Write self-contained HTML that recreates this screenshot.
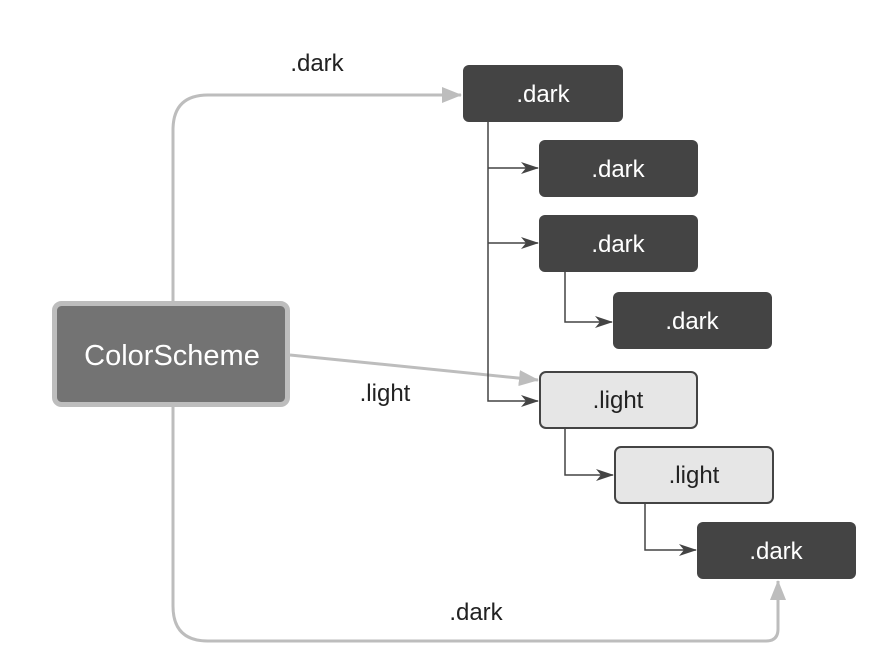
<!DOCTYPE html>
<html><head><meta charset="utf-8"><style>
body{margin:0;background:#fff;}
svg{display:block;font-family:"Liberation Sans",Helvetica,Arial,sans-serif;}
</style></head><body>
<svg width="891" height="655" viewBox="0 0 891 655" xmlns="http://www.w3.org/2000/svg">
<defs>
<marker id="ad" markerWidth="18" markerHeight="12" refX="17" refY="6" orient="auto" markerUnits="userSpaceOnUse">
<path d="M0,0 L18,6 L0,12 L5,6 Z" fill="#444"/>
</marker>
<marker id="agb" markerWidth="20" markerHeight="16" refX="19" refY="8" orient="auto" markerUnits="userSpaceOnUse">
<path d="M0,0 L20,8 L0,16 Z" fill="#bdbdbd"/>
</marker>
</defs>
<path d="M173,301 L173,130 Q173,95 208,95 L461,95" fill="none" stroke="#bdbdbd" stroke-width="3" marker-end="url(#agb)"/>
<path d="M290,355 L538,380" fill="none" stroke="#bdbdbd" stroke-width="3" marker-end="url(#agb)"/>
<path d="M173,407 L173,606 Q173,641 208,641 L766,641 Q778,641 778,629 L778,581" fill="none" stroke="#bdbdbd" stroke-width="3" marker-end="url(#agb)"/>
<path d="M488,122 L488,401 L538,401" fill="none" stroke="#444" stroke-width="1.5" marker-end="url(#ad)"/>
<path d="M488,168 L538,168" stroke="#444" stroke-width="1.5" marker-end="url(#ad)"/>
<path d="M488,243 L538,243" stroke="#444" stroke-width="1.5" marker-end="url(#ad)"/>
<path d="M565,272 L565,322 L612,322" fill="none" stroke="#444" stroke-width="1.5" marker-end="url(#ad)"/>
<path d="M565,428 L565,475 L613,475" fill="none" stroke="#444" stroke-width="1.5" marker-end="url(#ad)"/>
<path d="M645,503 L645,550 L696,550" fill="none" stroke="#444" stroke-width="1.5" marker-end="url(#ad)"/>
<rect x="54.5" y="303.5" width="233" height="101" rx="7" fill="#737373" stroke="#bdbdbd" stroke-width="5"/>
<text x="172" y="365" font-size="29" fill="#fff" text-anchor="middle">ColorScheme</text>
<g fill="#444">
<rect x="463" y="65" width="160" height="57" rx="6"/>
<rect x="539" y="140" width="159" height="57" rx="6"/>
<rect x="539" y="215" width="159" height="57" rx="6"/>
<rect x="613" y="292" width="159" height="57" rx="6"/>
<rect x="697" y="522" width="159" height="57" rx="6"/>
</g>
<g fill="#e6e6e6" stroke="#444" stroke-width="2">
<rect x="540" y="372" width="157" height="56" rx="6"/>
<rect x="615" y="447" width="158" height="56" rx="6"/>
</g>
<g font-size="24" text-anchor="middle" fill="#fff">
<text x="543" y="102">.dark</text>
<text x="618" y="177">.dark</text>
<text x="618" y="252">.dark</text>
<text x="692" y="329">.dark</text>
<text x="776" y="559">.dark</text>
</g>
<g font-size="24" text-anchor="middle" fill="#222">
<text x="618" y="408">.light</text>
<text x="694" y="483">.light</text>
<text x="317" y="71">.dark</text>
<text x="385" y="401">.light</text>
<text x="476" y="620">.dark</text>
</g>
</svg>
</body></html>
